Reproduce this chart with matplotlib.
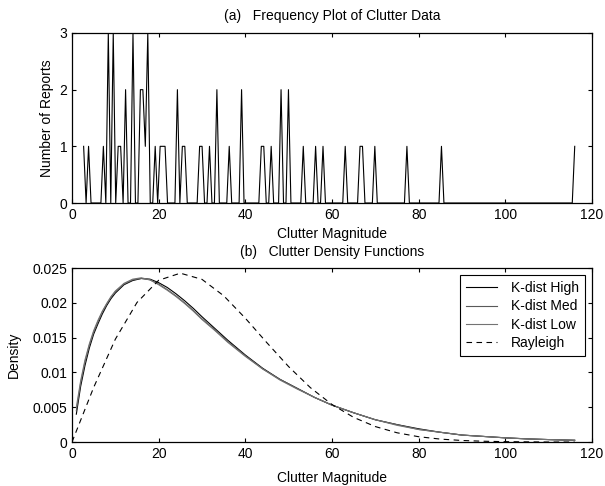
import matplotlib as mpl
mpl.use('Agg')
import matplotlib.pyplot as plt
import numpy as np

plt.rcParams['font.family'] = ['Liberation Sans', 'DejaVu Sans']
plt.rcParams['font.size'] = 10

# clutter report magnitudes
reports = [2.4, 3.6, 7.1, 8.2, 8.2, 8.2, 9.55, 9.55, 9.55, 10.5, 11.0,
           12.6, 12.6, 13.9, 13.9, 13.9, 15.8, 15.8, 16.3, 16.3, 16.9,
           17.5, 17.5, 17.5, 19.2, 20.3, 20.9, 21.5, 24.1, 24.1, 25.4, 25.9,
           29.3, 29.8, 31.55, 33.2, 33.2, 36.2, 39.1, 39.1, 43.6, 44.1, 45.9,
           48.2, 48.2, 49.9, 49.9, 53.3, 56.2, 57.9, 62.8, 66.6, 67.1, 69.7,
           77.2, 85.2, 116.3]
n_bins = 200

# density curves
kx = [1, 2, 3, 4, 5, 6, 7, 8, 9, 10, 12, 14, 16, 18, 20, 22, 24, 26, 28, 30,
      33, 36, 40, 44, 48, 52, 56, 60, 65, 70, 75, 80, 85, 90, 95, 100, 105,
      110, 116]
k_high = [0.0040, 0.0080, 0.0110, 0.0135, 0.0155, 0.0170, 0.0184, 0.0196,
          0.0206, 0.0214, 0.0226, 0.0232, 0.0235, 0.0234, 0.0229, 0.0222,
          0.0213, 0.0203, 0.0192, 0.0180, 0.0163, 0.0146, 0.0125, 0.0106,
          0.0090, 0.0077, 0.0064, 0.0053, 0.0042, 0.0032, 0.0025, 0.0019,
          0.0014, 0.0010, 0.0008, 0.0006, 0.00045, 0.00035, 0.00025]
k_med = [0.0045, 0.0085, 0.0115, 0.0139, 0.0158, 0.0173, 0.0187, 0.0198,
         0.0208, 0.0216, 0.0227, 0.0233, 0.0235, 0.0233, 0.0227, 0.0219,
         0.0210, 0.0200, 0.0189, 0.0177, 0.0161, 0.0144, 0.0124, 0.0105,
         0.0090, 0.0077, 0.0064, 0.0053, 0.0042, 0.0032, 0.0025, 0.0018,
         0.0014, 0.0010, 0.0008, 0.0006, 0.00045, 0.00035, 0.00025]
k_low = [0.0050, 0.0088, 0.0118, 0.0141, 0.0160, 0.0175, 0.0188, 0.0199,
         0.0209, 0.0217, 0.0228, 0.0234, 0.0236, 0.0233, 0.0226, 0.0218,
         0.0209, 0.0199, 0.0188, 0.0176, 0.0160, 0.0143, 0.0123, 0.0105,
         0.0089, 0.0076, 0.0064, 0.0053, 0.0042, 0.0032, 0.0024, 0.0018,
         0.0014, 0.0010, 0.0008, 0.0006, 0.00045, 0.00035, 0.00025]

rx = [0, 5, 10, 15, 20, 25, 30, 35, 40, 45, 50, 55, 60, 65, 70, 75, 80, 85,
      90, 95, 100, 110, 116]
rayleigh = [0.0, 0.00784, 0.01477, 0.02005, 0.02324, 0.02426, 0.02337,
            0.02102, 0.01779, 0.01425, 0.01083, 0.00782, 0.00539, 0.00354,
            0.00222, 0.00133, 0.00076, 0.00042, 0.00022, 0.00011, 0.00005,
            0.0, 0.0]


def style(ax):
    ax.tick_params(direction='in', top=True, right=True, length=3, width=0.8)
    for s in ax.spines.values():
        s.set_linewidth(0.9)


fig = plt.figure(figsize=(6.05, 4.86), dpi=100)
ax1 = fig.add_axes([0.119, 0.5823, 0.8595, 0.3498])
ax2 = fig.add_axes([0.119, 0.0905, 0.8595, 0.358])

counts, edges = np.histogram(reports, bins=n_bins)
centers = (edges[:-1] + edges[1:]) / 2
ax1.plot(centers, counts, color='k', lw=0.8)
ax1.set_xlim(0, 120)
ax1.set_ylim(0, 3)
ax1.set_yticks([0, 1, 2, 3])
ax1.set_xticks(range(0, 121, 20))
ax1.set_title('(a)   Frequency Plot of Clutter Data', fontsize=10, pad=9)
ax1.set_xlabel('Clutter Magnitude', labelpad=4)
ax1.set_ylabel('Number of Reports', labelpad=4)
style(ax1)

ax2.plot(kx, k_high, color='k', lw=0.8, label='K-dist High')
ax2.plot(kx, k_med, color='0.35', lw=0.8, label='K-dist Med')
ax2.plot(kx, k_low, color='0.45', lw=0.8, label='K-dist Low')
ax2.plot(rx, rayleigh, color='k', lw=0.8, ls=(0, (5, 4)), label='Rayleigh')
ax2.set_xlim(0, 120)
ax2.set_ylim(0, 0.025)
ax2.set_xticks(range(0, 121, 20))
ax2.set_yticks([0, 0.005, 0.01, 0.015, 0.02, 0.025])
ax2.set_yticklabels(['0', '0.005', '0.01', '0.015', '0.02', '0.025'])
ax2.set_title('(b)   Clutter Density Functions', fontsize=10, pad=9)
ax2.set_xlabel('Clutter Magnitude', labelpad=7)
ax2.set_ylabel('Density', labelpad=8)
leg = ax2.legend(loc='upper right', fancybox=False, edgecolor='k',
                 framealpha=1, handlelength=2.2, handletextpad=1.0,
                 borderpad=0.45, labelspacing=0.3, borderaxespad=0.5,
                 bbox_to_anchor=(1, 1))
leg.get_frame().set_linewidth(0.8)
style(ax2)

fig.savefig('out.png', dpi=100)
